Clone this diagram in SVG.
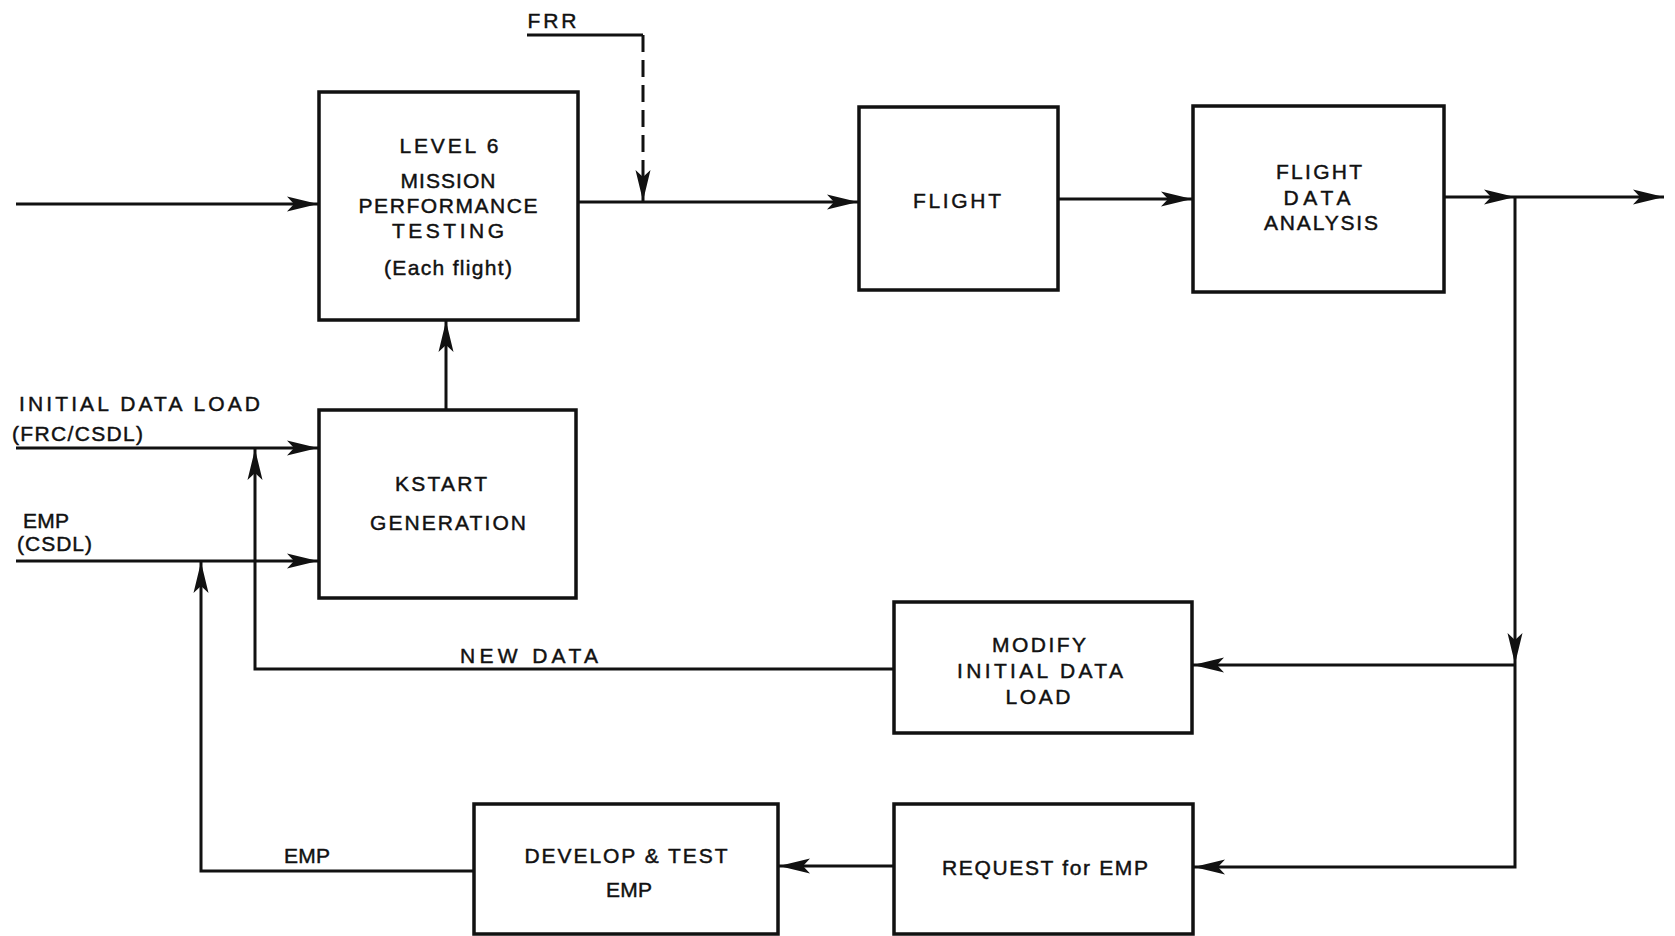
<svg xmlns="http://www.w3.org/2000/svg" width="1675" height="936" viewBox="0 0 1675 936">
<style>
.box{fill:#fff;stroke:#111;stroke-width:3.5}
.ln{fill:none;stroke:#111;stroke-width:3}
.dash{fill:none;stroke:#111;stroke-width:3;stroke-dasharray:17 8}
text{font-family:"Liberation Sans",Arial,sans-serif;font-size:21px;fill:#111;stroke:#111;stroke-width:0.45;text-anchor:middle;dominant-baseline:central}
.l{text-anchor:start}
</style>
<defs>
<marker id="ah" markerUnits="userSpaceOnUse" viewBox="-32 -9 34 18" refX="0" refY="0" markerWidth="34" markerHeight="18" orient="auto">
<path d="M0,0 L-31,-7.5 L-24,0 L-31,7.5 Z" fill="#111"/>
</marker>
</defs>
<rect width="1675" height="936" fill="#fff"/>
<g id="connectors">
<line class="ln" x1="16" y1="204" x2="318" y2="204" marker-end="url(#ah)"/>
<line class="ln" x1="578" y1="202" x2="858" y2="202" marker-end="url(#ah)"/>
<line class="ln" x1="527" y1="35" x2="643" y2="35"/>
<line class="dash" x1="643" y1="35" x2="643" y2="201" marker-end="url(#ah)"/>
<line class="ln" x1="1058" y1="199" x2="1192" y2="199" marker-end="url(#ah)"/>
<line class="ln" x1="1444" y1="197" x2="1515" y2="197" marker-end="url(#ah)"/>
<line class="ln" x1="1515" y1="197" x2="1664" y2="197" marker-end="url(#ah)"/>
<line class="ln" x1="1515" y1="197" x2="1515" y2="664" marker-end="url(#ah)"/>
<polyline class="ln" points="1515,664 1515,867 1194,867" marker-end="url(#ah)"/>
<line class="ln" x1="1515" y1="665" x2="1193" y2="665" marker-end="url(#ah)"/>
<line class="ln" x1="894" y1="866" x2="779" y2="866" marker-end="url(#ah)"/>
<line class="ln" x1="446" y1="410" x2="446" y2="321" marker-end="url(#ah)"/>
<line class="ln" x1="16" y1="448" x2="318" y2="448" marker-end="url(#ah)"/>
<line class="ln" x1="16" y1="561" x2="318" y2="561" marker-end="url(#ah)"/>
<polyline class="ln" points="894,669 255,669 255,449" marker-end="url(#ah)"/>
<polyline class="ln" points="474,871 201,871 201,562" marker-end="url(#ah)"/>
</g>
<g id="labels">
<text x="552" y="20" textLength="49">FRR</text>
<text class="l" x="19" y="403" textLength="241">INITIAL DATA LOAD</text>
<text class="l" x="12" y="433" textLength="131">(FRC/CSDL)</text>
<text class="l" x="23" y="520" textLength="46">EMP</text>
<text class="l" x="17" y="543" textLength="75">(CSDL)</text>
<text class="l" x="460" y="655" textLength="138">NEW  DATA</text>
<text class="l" x="284" y="855" textLength="46">EMP</text>
</g>
<g id="n-level6">
<rect class="box" x="319" y="92" width="259" height="228"/>
<text x="449" y="145" textLength="99">LEVEL 6</text>
<text x="448" y="180" textLength="95">MISSION</text>
<text x="448" y="205" textLength="179">PERFORMANCE</text>
<text x="448" y="230" textLength="112">TESTING</text>
<text x="448" y="267" textLength="128">(Each flight)</text>
</g>
<g id="n-flight">
<rect class="box" x="859" y="107" width="199" height="183"/>
<text x="957" y="200" textLength="88">FLIGHT</text>
</g>
<g id="n-fda">
<rect class="box" x="1193" y="106" width="251" height="186"/>
<text x="1319" y="171" textLength="86">FLIGHT</text>
<text x="1317" y="197" textLength="67">DATA</text>
<text x="1321" y="222" textLength="114">ANALYSIS</text>
</g>
<g id="n-kstart">
<rect class="box" x="319" y="410" width="257" height="188"/>
<text x="441" y="483" textLength="92">KSTART</text>
<text x="448" y="522" textLength="156">GENERATION</text>
</g>
<g id="n-modify">
<rect class="box" x="894" y="602" width="298" height="131"/>
<text x="1039" y="644" textLength="94">MODIFY</text>
<text x="1040" y="670" textLength="166">INITIAL DATA</text>
<text x="1038" y="696" textLength="65">LOAD</text>
</g>
<g id="n-request">
<rect class="box" x="894" y="804" width="299" height="130"/>
<text x="1045" y="867" textLength="206">REQUEST for EMP</text>
</g>
<g id="n-develop">
<rect class="box" x="474" y="804" width="304" height="130"/>
<text x="626" y="855" textLength="203">DEVELOP &amp; TEST</text>
<text x="629" y="889" textLength="46">EMP</text>
</g>
</svg>
